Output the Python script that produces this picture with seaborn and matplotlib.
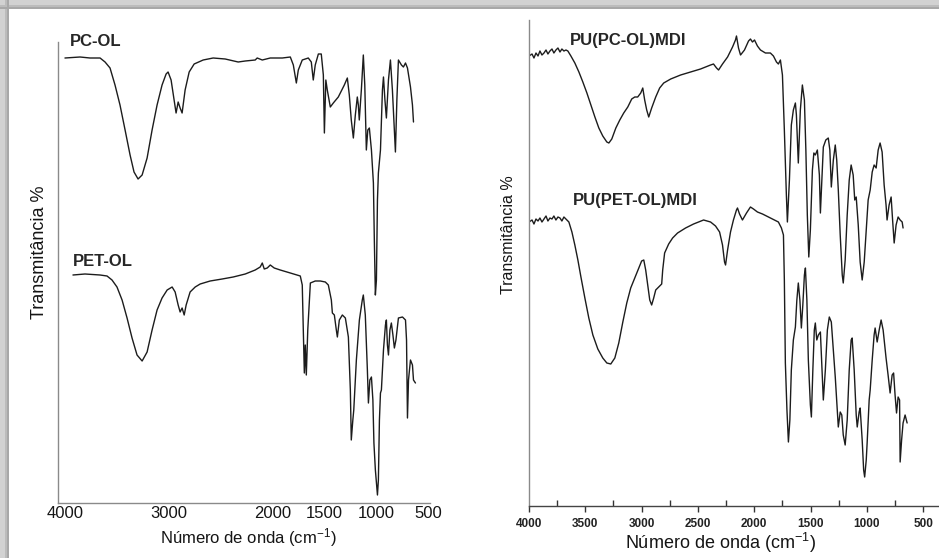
import numpy as np
import pandas as pd
import matplotlib
matplotlib.use("Agg")
import matplotlib.pyplot as plt
from matplotlib.patches import Rectangle
from matplotlib.ticker import FixedLocator, MultipleLocator
import seaborn as sns

# ---------------------------------------------------------------------------
# FTIR spectra (wavenumber cm-1, transmittance, arb. units)
# ---------------------------------------------------------------------------
pc_ol_wn = [4000, 3855, 3759, 3662, 3614, 3566, 3518, 3470, 3421, 3373, 3335, 3296,
            3257, 3209, 3161, 3113, 3065, 3026, 3007, 2978, 2949, 2930, 2910, 2891,
            2872, 2843, 2804, 2756, 2669, 2573, 2457, 2332, 2264, 2168, 2149, 2100,
            2023, 1907, 1830, 1801, 1772, 1753, 1715, 1657, 1628, 1609, 1590, 1560,
            1532, 1512, 1502, 1488, 1474, 1445, 1416, 1368, 1310, 1281, 1262, 1243,
            1223, 1204, 1185, 1175, 1166, 1146, 1127, 1113, 1098, 1084, 1069, 1049,
            1030, 1021, 1011, 1001, 991, 982, 962, 943, 933, 919, 905, 885, 866, 847,
            818, 804, 789, 760, 741, 721, 702, 673, 654, 644]
pc_ol_t = [445, 446, 445, 445, 441, 435, 418, 398, 373, 348, 331, 324,
           328, 345, 373, 398, 418, 429, 431, 423, 403, 390, 401, 395,
           390, 413, 431, 439, 443, 445, 444, 441, 442, 443, 445, 443,
           445, 445, 446, 438, 420, 433, 443, 445, 441, 423, 438, 449,
           449, 428, 370, 423, 413, 396, 400, 406, 418, 425, 408, 383,
           365, 388, 406, 398, 383, 413, 448, 418, 353, 373, 375, 353,
           320, 263, 208, 223, 303, 330, 353, 413, 426, 403, 385, 423, 443, 413,
           351, 403, 443, 438, 436, 440, 435, 416, 398, 381]

pet_ol_wn = [3923, 3807, 3662, 3595, 3547, 3499, 3450, 3402, 3354, 3306, 3257, 3209,
             3161, 3113, 3065, 3016, 2968, 2939, 2910, 2891, 2872, 2852, 2833, 2795,
             2746, 2698, 2602, 2486, 2380, 2264, 2168, 2120, 2100, 2081, 2052, 2023,
             1985, 1927, 1830, 1734, 1715, 1705, 1695, 1686, 1676, 1662, 1637, 1590,
             1541, 1493, 1464, 1435, 1425, 1406, 1387, 1377, 1358, 1329, 1300, 1271,
             1252, 1243, 1228, 1219, 1194, 1165, 1137, 1127, 1108, 1088, 1078, 1064,
             1049, 1035, 1025, 1011, 991, 982, 972, 962, 953, 933, 914, 905, 895, 885,
             871, 857, 842, 828, 813, 789, 750, 721, 711, 702, 692, 673, 654, 644, 625]
pet_ol_t = [228, 229, 228, 227, 223, 216, 203, 185, 165, 148, 142, 151,
            173, 193, 205, 213, 216, 211, 198, 191, 195, 188, 198, 211,
            216, 219, 222, 224, 226, 229, 233, 236, 240, 234, 235, 238,
            235, 233, 230, 227, 218, 173, 130, 158, 128, 173, 220, 222,
            222, 221, 218, 203, 190, 188, 173, 166, 183, 188, 185, 166,
            113, 63, 83, 93, 143, 183, 203, 208, 188, 133, 100, 123,
            126, 103, 60, 33, 8, 23, 83, 110, 113, 153, 178, 183, 158, 148,
            173, 180, 168, 155, 163, 185, 186, 183, 163, 85, 123, 143, 138, 123, 120]

pu_pc_wn = [4000, 3973, 3956, 3938, 3920, 3903, 3885, 3867, 3849, 3832, 3814, 3796,
            3779, 3761, 3743, 3725, 3708, 3690, 3672, 3655, 3628, 3593, 3557, 3522,
            3486, 3451, 3415, 3380, 3345, 3309, 3291, 3265, 3229, 3194, 3159, 3123,
            3088, 3061, 3035, 3008, 2990, 2973, 2955, 2937, 2911, 2875, 2840, 2804,
            2742, 2654, 2565, 2477, 2388, 2362, 2335, 2317, 2282, 2237, 2193, 2167,
            2158, 2140, 2122, 2087, 2051, 2034, 2016, 1998, 1972, 1945, 1901, 1857,
            1830, 1803, 1786, 1768, 1750, 1733, 1715, 1706, 1688, 1671, 1653, 1635,
            1626, 1609, 1591, 1573, 1555, 1542, 1529, 1516, 1502, 1484, 1471, 1458,
            1440, 1422, 1413, 1400, 1387, 1365, 1343, 1329, 1316, 1298, 1281, 1268,
            1254, 1237, 1219, 1210, 1193, 1175, 1157, 1140, 1122, 1108, 1095, 1077,
            1060, 1042, 1024, 1006, 989, 971, 953, 936, 918, 900, 883, 865, 847, 830,
            821, 803, 785, 772, 758, 741, 723, 705, 687, 679]
pu_pc_t = [450, 452, 448, 453, 450, 455, 451, 453, 456, 452, 455, 457,
           453, 456, 458, 454, 457, 455, 456, 455, 450, 443, 434, 424,
           413, 401, 389, 378, 370, 364, 363, 367, 378, 386, 393, 399,
           407, 409, 409, 413, 418, 406, 396, 389, 398, 409, 418, 423,
           427, 431, 434, 437, 441, 442, 438, 436, 442, 449, 459, 466,
           470, 458, 451, 456, 465, 467, 464, 466, 460, 456, 453, 453,
           450, 444, 442, 446, 431, 376, 311, 284, 326, 381, 396, 403,
           391, 343, 396, 421, 406, 356, 291, 249, 276, 336, 353, 351,
           356, 331, 293, 326, 359, 366, 368, 356, 319, 346, 361, 346,
           316, 271, 231, 223, 246, 291, 326, 341, 331, 306, 309, 281,
           244, 226, 244, 276, 306, 316, 334, 341, 338, 356, 363, 354, 321, 301,
           286, 301, 309, 286, 263, 281, 289, 286, 284, 278]

pu_pet_wn = [4000, 3973, 3956, 3938, 3920, 3903, 3885, 3867, 3849, 3832, 3814, 3796,
             3779, 3761, 3743, 3725, 3708, 3690, 3672, 3646, 3619, 3593, 3566, 3539,
             3504, 3469, 3433, 3389, 3345, 3309, 3274, 3238, 3203, 3167, 3132, 3097,
             3061, 3026, 3000, 2981, 2964, 2946, 2928, 2911, 2893, 2875, 2849, 2822,
             2813, 2796, 2760, 2725, 2681, 2610, 2539, 2450, 2388, 2344, 2308, 2282,
             2264, 2255, 2237, 2211, 2185, 2158, 2149, 2131, 2105, 2069, 2034, 2007,
             1972, 1927, 1874, 1821, 1786, 1759, 1741, 1733, 1724, 1710, 1697, 1684,
             1671, 1653, 1635, 1622, 1609, 1595, 1582, 1569, 1555, 1546, 1533, 1520,
             1502, 1493, 1480, 1467, 1458, 1445, 1431, 1413, 1400, 1387, 1369, 1351,
             1334, 1316, 1298, 1281, 1263, 1254, 1237, 1223, 1210, 1193, 1175, 1157,
             1140, 1131, 1113, 1095, 1086, 1069, 1060, 1042, 1029, 1020, 1006, 998,
             980, 971, 953, 936, 927, 909, 891, 874, 856, 830, 812, 794, 776, 763,
             750, 737, 723, 710, 705, 692, 679, 661, 643]
pu_pet_t = [284, 286, 282, 287, 285, 288, 284, 287, 290, 285, 288, 287,
            290, 286, 289, 288, 285, 289, 287, 284, 274, 261, 246, 229,
            208, 188, 171, 157, 148, 143, 142, 148, 163, 184, 203, 218,
            228, 238, 245, 246, 236, 221, 206, 201, 208, 216, 219, 222,
            236, 253, 262, 268, 273, 278, 282, 286, 284, 280, 274, 261,
            244, 241, 256, 274, 286, 296, 298, 292, 286, 293, 299, 297,
            294, 292, 289, 286, 284, 278, 271, 226, 143, 96, 64, 86,
            136, 166, 179, 206, 223, 206, 178, 201, 231, 238, 206, 146,
            101, 89, 136, 176, 183, 166, 171, 174, 141, 106, 136, 176,
            189, 184, 156, 129, 96, 79, 94, 91, 71, 61, 86, 136,
            166, 168, 136, 91, 79, 94, 98, 66, 36, 29, 46, 63,
            106, 116, 146, 171, 178, 164, 176, 186, 176, 148, 131, 113, 131, 133,
            111, 93, 109, 106, 44, 66, 83, 91, 83]

left_ticks = [4000, 3000, 2000, 1500, 1000, 500]
right_ticks = [4000, 3500, 3000, 2500, 2000, 1500, 1000, 500]

xlabel = "Número de onda (cm$^{-1}$)"
ylabel = "Transmitância %"

# ---------------------------------------------------------------------------
sns.set_theme(style="white")
plt.rcParams["font.family"] = ["Liberation Sans", "DejaVu Sans"]
plt.rcParams["mathtext.fontset"] = "custom"
plt.rcParams["mathtext.rm"] = "Liberation Sans"
plt.rcParams["mathtext.default"] = "regular"

W, H = 939, 558
fig = plt.figure(figsize=(W / 100, H / 100), dpi=100)
fig.patch.set_facecolor("white")

# grey shadow frame along top and left edges
for (x0, x1, c) in [(0, 5, "#d2d2d2"), (5, 7, "#bcbcbc"), (7, 9, "#a8a8a8")]:
    fig.add_artist(Rectangle((x0 / W, 0), (x1 - x0) / W, 1, transform=fig.transFigure,
                             color=c, lw=0, zorder=-5))
    fig.add_artist(Rectangle((0, 1 - x1 / H), 1, (x1 - x0) / H, transform=fig.transFigure,
                             color=c, lw=0, zorder=-5))


def px_axes(x0, y0, x1, y1):
    # axes placed from pixel box (top-left origin)
    return fig.add_axes([x0 / W, 1 - y1 / H, (x1 - x0) / W, (y1 - y0) / H])


LINE = dict(color="#1c1c1c", linewidth=1.0, estimator=None, sort=False, legend=False)
SPINE = "#8a8a8a"

# ---------------- left panel: polyols ----------------
axl = px_axes(58, 42, 430, 503)
for wn, t in [(pc_ol_wn, pc_ol_t), (pet_ol_wn, pet_ol_t)]:
    sns.lineplot(data=pd.DataFrame({"wn": wn, "t": t}), x="wn", y="t", ax=axl, **LINE)
axl.set_xlim(4067, 485)
axl.set_ylim(0, 461)
axl.set_yticks([])
axl.xaxis.set_major_locator(FixedLocator(left_ticks))
axl.tick_params(axis="x", length=0, pad=2, labelsize=12, labelcolor="#151515")
axl.text(3950, 462, "PC-OL", fontsize=12, fontweight="bold", va="center", ha="left",
         clip_on=False)
axl.text(3923, 241, "PET-OL", fontsize=12, fontweight="bold", va="center", ha="left")
axl.set_xlabel(xlabel, fontsize=12, va="center", color="#151515")
axl.xaxis.set_label_coords(0.511, -0.074)
axl.set_ylabel(ylabel, fontsize=13, va="center", color="#151515")
axl.yaxis.set_label_coords(-0.05, 0.544)

# ---------------- right panel: polyurethanes ----------------
axr = px_axes(529, 20, 939, 506)
for wn, t in [(pu_pc_wn, pu_pc_t), (pu_pet_wn, pu_pet_t)]:
    sns.lineplot(data=pd.DataFrame({"wn": wn, "t": t}), x="wn", y="t", ax=axr, **LINE)
axr.set_xlim(4000, 360)
axr.set_ylim(0, 486)
axr.set_yticks([])
axr.xaxis.set_major_locator(FixedLocator(right_ticks))
axr.xaxis.set_minor_locator(MultipleLocator(250))
axr.tick_params(axis="x", which="major", direction="out", length=4, width=1,
                color="#333333", bottom=True, pad=4.5, labelsize=8.5, labelcolor="#222222")
axr.tick_params(axis="x", which="minor", direction="in", length=4, width=1,
                color="#333333", bottom=True)
for lab in axr.get_xticklabels():
    lab.set_fontweight("bold")
axr.text(3637, 466, "PU(PC-OL)MDI", fontsize=12, fontweight="bold", va="center", ha="left")
axr.text(3610, 306, "PU(PET-OL)MDI", fontsize=12, fontweight="bold", va="center", ha="left")
axr.set_xlabel(xlabel, fontsize=13, va="center", color="#151515")
axr.xaxis.set_label_coords(0.466, -0.076)
axr.set_ylabel(ylabel, fontsize=11.5, va="center", color="#151515")
axr.yaxis.set_label_coords(-0.051, 0.558)

for ax in (axl, axr):
    ax.set_facecolor("none")
    for side in ("top", "right"):
        ax.spines[side].set_visible(False)
    for side in ("left", "bottom"):
        ax.spines[side].set_color(SPINE)
        ax.spines[side].set_linewidth(1.0)
axr.spines["bottom"].set_color("#444444")

fig.savefig("out.png", dpi=100)
